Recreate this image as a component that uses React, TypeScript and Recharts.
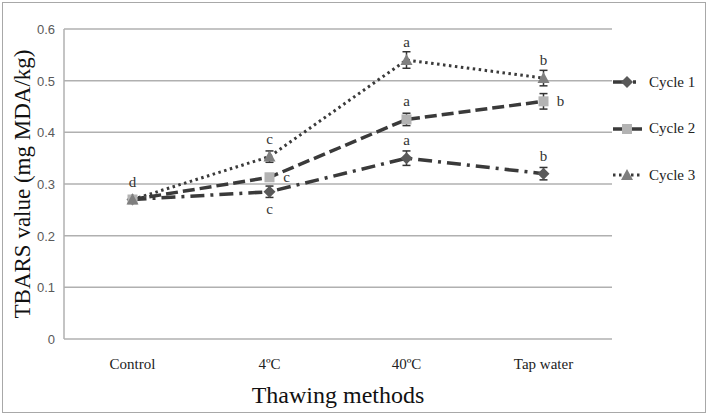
import React from 'react';
import { LineChart, Line, XAxis, YAxis, CartesianGrid, ErrorBar, LabelList, Legend } from 'recharts';

const categories = ['Control', '4ºC', '40ºC', 'Tap water'];
const cycle1 = [0.27, 0.285, 0.35, 0.32];
const cycle2 = [0.27, 0.313, 0.425, 0.46];
const cycle3 = [0.27, 0.353, 0.54, 0.505];
const err1 = [0.006, 0.011, 0.014, 0.012];
const err2 = [0.006, 0.005, 0.012, 0.015];
const err3 = [0.006, 0.011, 0.016, 0.015];
const letters1 = ['', 'c', 'a', 'b'];
const letters2 = ['', 'c', 'a', 'b'];
const letters3 = ['d', 'c', 'a', 'b'];
const yTicks = [0, 0.1, 0.2, 0.3, 0.4, 0.5, 0.6];
const seriesNames = ['Cycle 1', 'Cycle 2', 'Cycle 3'];

const data = categories.map((name, i) => ({
  name,
  c1: cycle1[i], c2: cycle2[i], c3: cycle3[i],
  e1: err1[i], e2: err2[i], e3: err3[i],
  l1: letters1[i], l2: letters2[i], l3: letters3[i],
}));

// where each significance letter sits relative to its point
const placement: Record<string, string[]> = {
  l1: ['top', 'bottom', 'top', 'top'],
  l2: ['top', 'right', 'top', 'right'],
  l3: ['top', 'top', 'top', 'top'],
};

const SERIF = '"Liberation Serif", "Times New Roman", serif';
const LINE = '#3a3a3a';

const styles = [
  { key: 'c1', dash: '14 6 3 6', width: 3.5, fill: '#595959', shape: 'diamond' },
  { key: 'c2', dash: '12 5', width: 3.5, fill: '#b3b3b3', shape: 'square' },
  { key: 'c3', dash: '2.5 3.5', width: 3, fill: '#7f7f7f', shape: 'triangle' },
];

function Marker({ cx, cy, shape, fill }: any) {
  if (cx == null || cy == null) return null;
  if (shape === 'diamond')
    return <path d={`M${cx},${cy - 6}L${cx + 6},${cy}L${cx},${cy + 6}L${cx - 6},${cy}Z`} fill={fill} />;
  if (shape === 'square') return <rect x={cx - 5} y={cy - 5} width={10} height={10} fill={fill} />;
  return <path d={`M${cx},${cy - 6}L${cx + 6},${cy + 5}L${cx - 6},${cy + 5}Z`} fill={fill} />;
}

const makeLetter = (key: string) => (props: any) => {
  const { x, y, value, index } = props;
  if (!value) return null;
  const p = placement[key][index];
  let tx = x, ty = y - 18;
  if (p === 'bottom') ty = y + 17;
  if (p === 'right') { tx = x + 17; ty = y; }
  return (
    <text x={tx} y={ty + 5} textAnchor="middle" fontFamily={SERIF} fontSize={15} fill="#333" stroke="none" style={{ fill: '#333' }}>
      {value}
    </text>
  );
};

const XTick = (props: any) => {
  const { x, y, payload } = props;
  return (
    <text x={x} y={y + 22} textAnchor="middle" fontFamily={SERIF} fontSize={15} fill="#222">
      {payload.value}
    </text>
  );
};

const YTick = (props: any) => {
  const { x, y, payload } = props;
  return (
    <text x={x - 1} y={y + 5} textAnchor="end" fontFamily='"Liberation Sans", Arial, sans-serif' fontSize={13} fill="#595959">
      {payload.value}
    </text>
  );
};

const LegendContent = () => (
  <div style={{ fontFamily: SERIF, fontSize: 15, color: '#222' }}>
    {styles.map((s, i) => (
      <div key={s.key} style={{ height: 46.5, display: 'flex', alignItems: 'center' }}>
        <svg width={36} height={20} style={{ display: 'block' }}>
          <line x1={1} y1={10} x2={30} y2={10} stroke={LINE} strokeWidth={s.width} strokeDasharray={s.dash} />
          <Marker cx={15} cy={10} shape={s.shape} fill={s.fill} />
        </svg>
        <span style={{ marginLeft: 1 }}>{seriesNames[i]}</span>
      </div>
    ))}
  </div>
);

export default function App() {
  return (
    <div style={{ position: 'absolute', left: 0, top: 0, width: 708, height: 416, background: '#fff' }}>
      <div style={{ position: 'absolute', left: 2, top: 2, width: 704, height: 411, border: '1.5px solid #a8a8a8', boxSizing: 'border-box' }} />
      <LineChart width={708} height={416} data={data} margin={{ top: 29, right: 0, bottom: 27, left: 0 }}>
        <CartesianGrid vertical={false} stroke="#b0b0b0" strokeWidth={1.5} />
        <XAxis dataKey="name" scale="band" axisLine={false} tickLine={false} height={50} tick={<XTick />} interval={0}
          label={(p: any) => {
            const vb = p.viewBox;
            return (
              <text x={vb.x + vb.width / 2} y={vb.y + 64} textAnchor="middle" fontFamily={SERIF} fontSize={24} fill="#111">
                Thawing methods
              </text>
            );
          }}
        />
        <YAxis domain={[0, 0.6]} ticks={yTicks} width={64} tickLine={false} axisLine={{ stroke: '#b0b0b0', strokeWidth: 1.5 }} tick={<YTick />}
          label={(p: any) => {
            const vb = p.viewBox;
            const cx = 22, cy = vb.y + vb.height / 2;
            return (
              <text x={cx} y={cy} textAnchor="middle" dominantBaseline="central" transform={`rotate(-90 ${cx} ${cy})`} fontFamily={SERIF} fontSize={23} fill="#111">
                TBARS value (mg MDA/kg)
              </text>
            );
          }}
        />
        <Legend layout="vertical" verticalAlign="top" align="right" wrapperStyle={{ width: 96, top: 59 }} content={<LegendContent />} />
        {styles.map((s, i) => (
          <Line key={s.key} type="linear" dataKey={s.key} name={seriesNames[i]} stroke={LINE} strokeWidth={s.width}
            strokeDasharray={s.dash} isAnimationActive={false}
            dot={(p: any) => <Marker key={`${s.key}-${p.index}`} cx={p.cx} cy={p.cy} shape={s.shape} fill={s.fill} />}
            activeDot={false}>
            <ErrorBar dataKey={`e${i + 1}`} width={4} strokeWidth={1.5} stroke="#333" direction="y" />
            <LabelList dataKey={`l${i + 1}`} content={makeLetter(`l${i + 1}`)} />
          </Line>
        ))}
      </LineChart>
    </div>
  );
}
